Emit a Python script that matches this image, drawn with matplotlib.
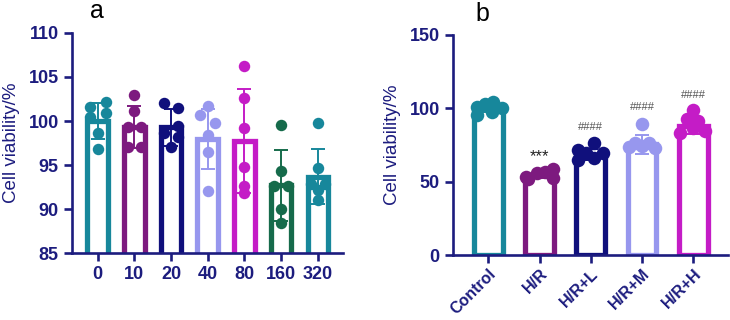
import matplotlib
matplotlib.use("Agg")
import numpy as np
import matplotlib.pyplot as plt

plt.rcParams["font.family"] = ["Liberation Sans", "DejaVu Sans"]

# ---- panel a data ----
conc_labels = ["0", "10", "20", "40", "80", "160", "320"]
conc_means = [100.0, 99.3, 99.3, 98.0, 97.7, 92.7, 93.7]
conc_sd = [2.0, 2.4, 2.1, 3.4, 5.9, 4.0, 3.1]
conc_points = [
    [101.6, 102.2, 100.5, 100.9, 98.6, 96.8],
    [103.0, 101.1, 99.3, 99.3, 97.0, 97.0],
    [102.0, 101.5, 99.4, 98.6, 98.2, 97.1],
    [101.7, 100.7, 99.8, 98.4, 96.5, 92.1],
    [106.2, 102.6, 99.2, 94.8, 92.6, 91.8],
    [99.5, 94.3, 92.6, 92.6, 90.0, 88.4],
    [99.8, 94.7, 92.9, 92.9, 92.2, 91.0],
]

# ---- panel b data ----
group_labels = ["Control", "H/R", "H/R+L", "H/R+M", "H/R+H"]
group_means = [100.0, 54.5, 68.5, 75.5, 88.0]
group_sd = [2.5, 1.8, 3.5, 6.5, 5.5]
group_points = [
    [101.1, 103.0, 104.5, 100.0, 95.5, 97.7],
    [53.4, 55.7, 56.8, 58.4, 52.3, 51.8],
    [71.6, 76.1, 69.8, 64.8, 65.9, 69.5],
    [89.3, 76.6, 76.6, 73.9, 72.8, 74.0],
    [98.9, 92.5, 91.6, 86.4, 83.0, 84.5],
]
sig_marks = ["", "***", "####", "####", "####"]
sig_heights = [0, 67, 87, 100.7, 109]

# point layout (horizontal offsets, fraction of bar spacing)
offs_a = [
    [-0.22, 0.23, -0.2, 0.22, 0, 0],
    [0, 0, -0.18, 0.18, -0.18, 0.18],
    [-0.2, 0.19, 0.19, -0.2, 0.19, 0],
    [0, -0.2, 0.2, 0, 0, 0],
    [0, 0, 0, 0, 0, 0],
    [0, 0, -0.2, 0.2, 0, 0],
    [0, 0, -0.2, 0.2, 0, 0],
]
offs_b = [
    [-0.23, -0.06, 0.1, 0.26, -0.23, 0.08],
    [-0.26, -0.06, 0.1, 0.26, 0.26, -0.23],
    [-0.26, 0.06, 0.23, -0.26, 0.06, -0.1],
    [0, -0.13, 0.13, -0.26, 0.26, 0],
    [0, -0.13, 0.1, 0, -0.26, 0.23],
]

teal = "#17879b"
purple = "#7d1a7f"
navy = "#10107c"
lav = "#9797ee"
mag = "#c41cc6"
green = "#166b4b"
colors_a = [teal, purple, navy, lav, mag, green, teal]
colors_b = [teal, purple, navy, lav, mag]
axis_col = "#1c1c7e"


def draw_panel(ax, labels, means, sd, points, offs, colors, msize):
    x = np.arange(len(labels))
    for i in range(len(labels)):
        c = colors[i]
        ax.bar(x[i], means[i], width=0.56, facecolor="white", edgecolor=c,
               linewidth=3.8, zorder=2)
        ax.errorbar(x[i], means[i], yerr=sd[i], color=c, capsize=5,
                    elinewidth=1.4, capthick=1.4, zorder=3)
        px = x[i] + np.array(offs[i])
        ax.scatter(px, points[i], s=msize, color=c, zorder=4, clip_on=False,
                   linewidths=0)
    for side in ["top", "right"]:
        ax.spines[side].set_visible(False)
    for side in ["left", "bottom"]:
        ax.spines[side].set_color(axis_col)
        ax.spines[side].set_linewidth(1.9)
    ax.tick_params(colors=axis_col, width=1.9, length=6)
    ax.set_xticks(x)
    return x


fig = plt.figure(figsize=(7.3, 3.2), dpi=100)

ax1 = fig.add_axes([0.0986, 0.209, 0.371, 0.688])
x1 = draw_panel(ax1, conc_labels, conc_means, conc_sd, conc_points, offs_a,
                colors_a, 68)
ax1.set_ylim(85, 110)
ax1.set_yticks([85, 90, 95, 100, 105, 110])
ax1.set_xlim(-0.7, 6.68)
ax1.set_xticklabels(conc_labels, fontsize=13, fontweight="bold", color=axis_col)
for t in ax1.get_yticklabels():
    t.set_fontweight("bold")
    t.set_fontsize(13)
ax1.set_ylabel("Cell viability/%", color=axis_col, fontsize=13.5, labelpad=6)

ax2 = fig.add_axes([0.6205, 0.203, 0.377, 0.688])
x2 = draw_panel(ax2, group_labels, group_means, group_sd, group_points, offs_b,
                colors_b, 95)
ax2.set_ylim(0, 150)
ax2.set_yticks([0, 50, 100, 150])
ax2.set_xlim(-0.69, 4.68)
ax2.set_xticklabels(group_labels, fontsize=11.5, fontweight="bold", color=axis_col,
                    rotation=45, ha="right", rotation_mode="anchor")
ax2.tick_params(axis="x", pad=2)
for t in ax2.get_yticklabels():
    t.set_fontweight("bold")
    t.set_fontsize(13)
ax2.set_ylabel("Cell viability/%", color=axis_col, fontsize=13.5, labelpad=6)

for i, m in enumerate(sig_marks):
    if not m:
        continue
    if m == "***":
        ax2.text(x2[i], sig_heights[i], m, ha="center", va="center",
                 fontsize=12, color="#222222")
    else:
        ax2.text(x2[i], sig_heights[i], m, ha="center", va="center",
                 fontsize=8, color="#555555")

fig.text(97 / 730, 1 - 11 / 320, "a", fontsize=18, ha="center", va="center")
fig.text(482 / 730, 1 - 14 / 320, "b", fontsize=18, ha="center", va="center")

fig.savefig("out.png", dpi=100)
